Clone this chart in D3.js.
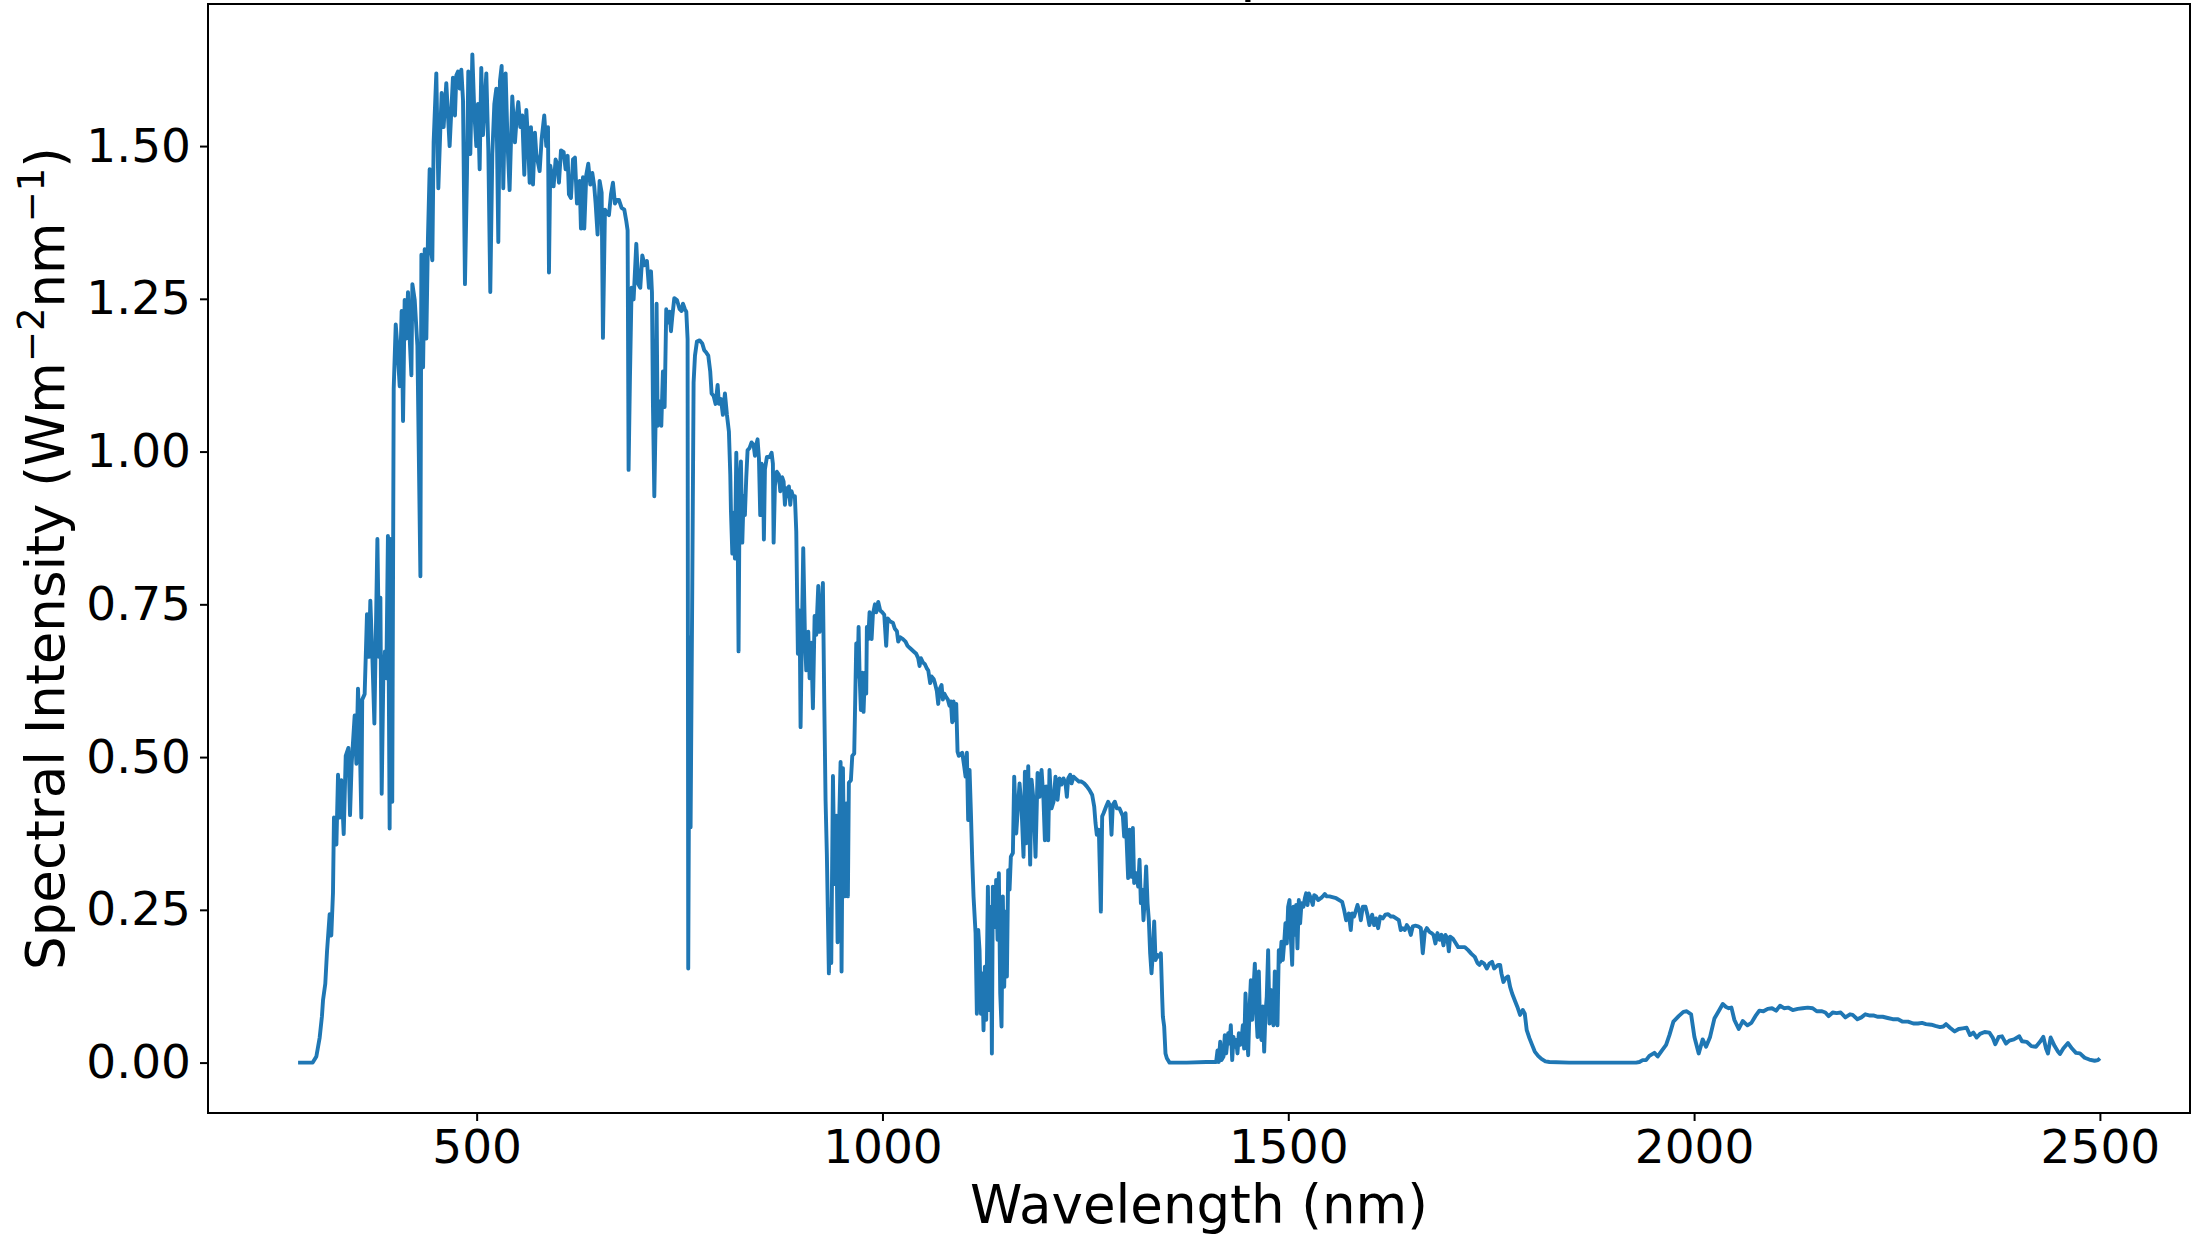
<!DOCTYPE html>
<html>
<head>
<meta charset="utf-8">
<script src="https://cdn.jsdelivr.net/npm/d3@7"></script>
<style>
  body { margin: 0; background: #fff; }
  svg { display: block; font-family: "DejaVu Sans", sans-serif; }
</style>
</head>
<body>
<svg id="chart" width="2192" height="1239"></svg>
<script>
// Spectrum, [wavelength nm, intensity W m^-2 nm^-1]
const bandUV = [
  [280,0],[290,0],[298,0],[302.5,0.010],[306.6,0.041],[309.4,0.076],[310.7,0.102],[313.5,0.129],
  [315.6,0.181],[318.9,0.243],[320.9,0.208],[323,0.278],[324.2,0.401],[327.2,0.357],[329.2,0.471],
  [331.3,0.401],[333.3,0.462],[336.2,0.374],[338.7,0.502],[342,0.515],[344,0.405],[346,0.489],
  [349.7,0.568],[351.8,0.489],[353.8,0.612],[355.8,0.541],[357.9,0.401],[359,0.594],[362,0.603],
  [364.9,0.734],[367.3,0.664],[369,0.756],[371.5,0.664],[374,0.555],[377.7,0.857],[379.8,0.664],
  [381.4,0.761],[383,0.440],[385,0.629],[387,0.673],[388.7,0.629],[390.7,0.862],[392.8,0.383],
  [394,0.857],[396,0.427],[397.8,1.103],[400.3,1.208],[402,1.178],[405.2,1.107],[407.6,1.230],
  [409.3,1.050],[411.3,1.248],[413.4,1.185],[415.4,1.261],[417.5,1.185],[419.6,1.125],[420.8,1.274],
  [423.7,1.248],[427,1.173],[430.7,0.796],[431.9,1.322],[434,1.138],[436,1.331],[438,1.185],[440,1.350]
];
const bandVisible = [
  [442.1,1.462],[443.5,1.333],[445.4,1.313],[447,1.506],[450.3,1.619],[452.8,1.431],[455.2,1.525],
  [456.9,1.587],[459.3,1.531],[462.6,1.603],[464.7,1.550],[466.7,1.500],[469.2,1.569],[470.8,1.612],
  [473.3,1.550],[475,1.616],[477,1.622],[479.1,1.594],[481.1,1.625],[483.2,1.575],[485.6,1.274],
  [488.1,1.456],[489.7,1.622],[492.2,1.487],[494.7,1.650],[497.1,1.556],[499.6,1.500],[501.6,1.569],
  [503.7,1.462],[505.7,1.628],[507.8,1.518],[511.9,1.619],[514.4,1.493],[516.8,1.261],[519.3,1.487],
  [521.8,1.569],[524.2,1.594],[526.7,1.343],[528.7,1.606],[530.8,1.631],[532.8,1.431],[535.7,1.619],
  [538.2,1.500],[540.6,1.428],[543.9,1.581],[547.2,1.506],[549.7,1.553],[551.3,1.572],[553.8,1.531],
  [556.2,1.550],[558.7,1.453],[561.2,1.559],[563.2,1.512],[565.3,1.440],[566.9,1.531],[569.4,1.437],
  [571.8,1.522],[573.5,1.487],[577.6,1.459],[580.1,1.512],[583.3,1.550],[585.8,1.500],[587.9,1.531],
  [589.1,1.293],[590.7,1.468],[594.8,1.434],[597.3,1.478],[599.8,1.468],[601.4,1.440],[603.9,1.493],
  [607.2,1.490],[609.6,1.462],[612.1,1.484],[613.7,1.421],[616.2,1.415],[618.7,1.478],[621.1,1.481],
  [623.6,1.406],[626.9,1.443],[628.5,1.365],[631,1.449],[632.6,1.365],[635.1,1.453],[637.5,1.471],
  [640,1.437],[642.5,1.456],[644.9,1.434],[646.6,1.406],[649,1.355],[651.5,1.443],[654,1.424],
  [655.6,1.186],[658.1,1.396],[660.5,1.390],[663,1.387],[665.5,1.421],[667.9,1.440],[670.4,1.406],
  [672.9,1.412],[675.3,1.412],[678.6,1.399],[681.9,1.396],[684.4,1.377],[686,1.362],[687.2,0.970],
  [688.9,1.123],[690.9,1.268],[693.4,1.249],[696.7,1.340],[699.1,1.274],[701.6,1.268],[704.1,1.321],
  [707,1.305],[709.8,1.312],[712.3,1.268]
];
const bandRed = [
  [714.8,1.295],[716,1.260],[717.2,1.078],[718.9,0.927],[720.5,1.051],[721.7,1.242],[723,1.042],
  [725.4,1.082],[727.5,1.042],[729.5,1.131],[731.6,1.073],[733.6,1.233],[735.7,1.211],[737.7,1.229],
  [739.4,1.197],[741,1.220],[743.5,1.251],[746.8,1.248],[750.1,1.233],[752.5,1.230],[754.2,1.242],
  [756.6,1.233],[758.3,1.229],[759.9,1.184],[760.7,0.154],[762.4,0.696],[763.6,0.385],[765.7,0.785],
  [767.3,1.113],[769,1.157],[771.4,1.180],[774.7,1.182],[778,1.177],[780.4,1.166],[782.9,1.162],
  [785.4,1.157],[787.8,1.131],[789.5,1.095],[792,1.091],[794.4,1.078],[796.9,1.109],[798.5,1.078],
  [801,1.086],[803.4,1.060],[805.9,1.095],[808.4,1.060],[810.8,1.033],[812.5,0.962],[813.3,0.904],
  [815,0.833],[816.6,0.900],[818.2,0.825],[819.9,0.998],[821.5,0.891],[822.7,0.673],[824,0.944],
  [825.6,0.984],[827.3,0.851],[828.9,0.927],[830.5,0.896],[832.2,0.958],[833.8,1.002],[836.3,1.006],
  [838.7,1.015],[841.2,1.011],[842.9,0.993],[844.5,1.011],[846.1,1.020],[847.8,0.989],[849.4,0.896],
  [851.1,0.980],[852.7,0.975],[853.9,0.856],[855.2,0.971],[857.6,0.991],[860.9,0.991],[863.4,0.998],
  [865,0.980],[865.9,0.851],[867.5,0.944],[869.9,0.967],[872.4,0.962],[874.1,0.935],[876.5,0.958],
  [878.2,0.951],[879.8,0.913],[881.5,0.940],[883.1,0.927],[884.7,0.943],[886.4,0.913],[888,0.935],
  [889.7,0.927],[892.1,0.927],[893.8,0.869],[895.8,0.669],[897.9,0.740],[899.1,0.549],[901.2,0.740],
  [902.4,0.842],[904.5,0.696],[906.1,0.642],[908.6,0.705],[910.2,0.629],[912.3,0.687],[914.3,0.580],
  [916.4,0.731],[918.4,0.700],[920.9,0.780],[922.5,0.705],[924.6,0.722],[926.6,0.785],[928.3,0.589],
  [929.9,0.429],[931.5,0.340]
];
const bandNIR1 = [
  [934,0.146],[935.7,0.251],[936.9,0.163],[939,0.469],[941,0.292],[943.1,0.404],[944.7,0.197],
  [946.3,0.374],[948.4,0.492],[949.6,0.149],[951.3,0.482],[953.3,0.272],[955.4,0.424],[957.4,0.272],
  [958.6,0.458],[961.1,0.462],[962.8,0.502],[965.2,0.506],[967.7,0.686],[969.3,0.632],[970.6,0.713],
  [971.8,0.635],[973.4,0.577],[975.1,0.638],[976.7,0.574],[978.4,0.638],[980,0.604],[980.8,0.713],
  [982.5,0.693],[984.1,0.737],[986.6,0.693],[988.2,0.733],[990.7,0.750],[992.3,0.737],[994.8,0.754],
  [997.2,0.740],[999.7,0.737],[1002.2,0.733],[1004.6,0.682],[1006.3,0.727],[1009.6,0.722],[1012.8,0.720],
  [1015.3,0.710],[1017.8,0.706],[1019.4,0.689],[1021.9,0.696],[1025.2,0.693],[1028.4,0.689],[1030.9,0.682],
  [1033.4,0.679],[1035.8,0.676],[1039.1,0.672],[1041.6,0.669],[1044,0.662],[1045.7,0.649],[1047.3,0.662],
  [1049.8,0.655],[1052.3,0.652],[1054.7,0.645],[1056.4,0.642],[1058.8,0.621],[1060.5,0.632],[1063,0.628],
  [1064.6,0.621],[1067,0.608],[1068.7,0.587],[1070.3,0.611],[1072.8,0.618],[1074.4,0.594],[1076.1,0.604],
  [1078.5,0.598],[1080.6,0.594],[1082.6,0.584],[1084.3,0.591],[1085.9,0.557],[1087.6,0.591],[1089.2,0.560],
  [1090.9,0.587],[1092.5,0.509],[1094.1,0.502]
];
const bandNIR2 = [
  [1098.3,0.507],[1100.7,0.485],[1102.4,0.468],[1104,0.507],[1105.6,0.397],[1107.3,0.479],[1109,0.408],
  [1110.6,0.332],[1112.2,0.272],[1114.7,0.212],[1116.3,0.080],[1118,0.217],[1119.6,0.184],[1121.3,0.080],
  [1122.9,0.146],[1124.5,0.053],[1126.2,0.157],[1127.8,0.070],[1129.9,0.288],[1131.9,0.086],[1133.6,0.255],
  [1134.8,0.015],[1136,0.288],[1138.5,0.222],[1140.1,0.299],[1141.8,0.201],[1143.4,0.310],[1145.1,0.113],
  [1146.7,0.059],[1148.3,0.272],[1150,0.124],[1151.6,0.247],[1153.3,0.141],[1154.9,0.315],[1156.6,0.283],
  [1158.2,0.337],[1160.7,0.343],[1162.3,0.468],[1164.8,0.375],[1167.2,0.424],[1168.9,0.457],[1171.3,0.419],
  [1173.8,0.337],[1175.5,0.476],[1177.1,0.359],[1179.6,0.485],[1182,0.324],[1183.7,0.463],[1186.1,0.430],
  [1188.6,0.337],[1191.1,0.474],[1193.5,0.435],[1196,0.479],[1198.4,0.430],[1200.1,0.364],[1201.7,0.452],
  [1204.2,0.364],[1205.8,0.479],[1208.3,0.416],[1210.8,0.427],[1213.2,0.468],[1215.7,0.430],[1218.2,0.465],
  [1220.6,0.455],[1223.1,0.465],[1225.5,0.457],[1227.2,0.435],[1228.8,0.465],[1231.3,0.471],[1233,0.457],
  [1235.4,0.468],[1238.7,0.464],[1242,0.460],[1245.2,0.460],[1248.5,0.457],[1251.8,0.452],[1255.1,0.446],
  [1258.4,0.438],[1260.9,0.419],[1262.5,0.392],[1264.1,0.373],[1266.6,0.381],[1269.1,0.247],[1270.7,0.403],
  [1272.4,0.408],[1275.6,0.419],[1278.1,0.427],[1280.6,0.419],[1282.2,0.373],[1283.8,0.422],[1286.3,0.427],
  [1288.8,0.416]
];
const bandNIR3 = [
  [1292.1,0.416],[1296.2,0.403],[1297.8,0.370],[1299.5,0.408],[1301.1,0.354],[1302.7,0.302],[1304.4,0.381],
  [1306.9,0.304],[1308.5,0.384],[1310.1,0.294],[1312.6,0.310],[1315.1,0.288],[1316.7,0.332],[1318.4,0.261],
  [1320,0.283],[1321.6,0.233],[1323.3,0.272],[1324.9,0.321],[1326.6,0.261],[1328.2,0.233],[1329.8,0.179],
  [1331.5,0.146],[1333.1,0.179],[1334.8,0.231],[1336.4,0.168],[1338.9,0.176],[1341.3,0.173],[1343,0.179],
  [1344.6,0.108],[1345.5,0.075],[1347.1,0.059],[1348.7,0.015],[1350.4,0.007],[1353.7,0],[1375,0],
  [1399,0.001],[1411.1,0.001],[1412.8,0.020],[1414.4,0.001],[1416.1,0.034],[1417.7,0.004],[1420.2,0.010],
  [1421.8,0.045],[1423.5,0.015],[1426,0.048],[1427.6,0.031],[1429.2,0.061],[1430.9,0.004],[1432.5,0.042],
  [1434.1,0.026],[1435.8,0.037],[1437.4,0.015],[1439.1,0.048],[1440.7,0.029],[1442.4,0.037],[1444,0.061],
  [1445.6,0.023],[1447.3,0.113],[1448.9,0.053],[1450.6,0.012],[1452.2,0.086],[1453.9,0.135],[1455.5,0.070],
  [1457.1,0.119],[1458.8,0.162],[1460.4,0.086],[1462.1,0.042],[1463.7,0.149],[1465.3,0.053],[1467,0.037],
  [1468.6,0.092],[1470.3,0.018],[1471.9,0.081],[1473.5,0.108],[1475.2,0.184],[1476.8,0.064],[1478.5,0.119],
  [1480.1,0.070],[1481.8,0.061],[1483.4,0.149],[1485,0.102],[1486.7,0.061],[1488.3,0.184],[1490,0.165],
  [1491.6,0.198],[1493.3,0.168],[1494.9,0.195],[1496.5,0.228],[1498.2,0.195],[1499.8,0.255],[1501.5,0.266],
  [1503.1,0.206],[1504.8,0.160],[1506.4,0.255],[1508,0.209],[1509.7,0.258],[1511.3,0.187],[1513,0.266],
  [1514.6,0.228],[1516.3,0.261],[1518.7,0.255],[1520.4,0.269],[1522,0.277],[1523.7,0.258],[1525.3,0.277],
  [1527.8,0.269],[1530.2,0.258],[1531.9,0.274],[1534.3,0.272],[1536.8,0.266],[1540.1,0.269],[1542.5,0.272],
  [1545,0.276],[1547.5,0.272]
];
const bandSWIR1 = [
  [1550.8,0.272],[1559,0.269],[1566.4,0.263],[1568.8,0.250],[1571.3,0.233],[1574.6,0.244],[1577,0.217],
  [1578.7,0.244],[1581.1,0.239],[1585.3,0.258],[1587.7,0.247],[1589.4,0.233],[1591.8,0.255],[1595.1,0.255],
  [1597.6,0.242],[1600,0.225],[1603.3,0.242],[1605.8,0.225],[1608.2,0.236],[1610.7,0.220],[1613.2,0.239],
  [1616.5,0.236],[1619.7,0.242],[1623,0.243],[1626.3,0.239],[1629.6,0.239],[1632.9,0.236],[1636.2,0.233],
  [1638.6,0.217],[1641.1,0.220],[1643.6,0.217],[1646,0.225],[1648.5,0.220],[1651,0.209],[1653.4,0.223],
  [1656.7,0.224],[1660,0.223],[1663.3,0.220],[1665.7,0.179],[1668.2,0.214],[1670.7,0.220],[1673.9,0.214],
  [1676.4,0.212],[1678.9,0.209],[1681.3,0.195],[1683.8,0.212],[1686.3,0.201],[1688.7,0.209],[1691.2,0.192],
  [1693.6,0.209],[1696.1,0.203],[1697.8,0.182],[1699.4,0.206],[1702.7,0.203],[1706,0.196],[1709.3,0.189],
  [1713.4,0.189],[1717.5,0.189],[1721.6,0.184],[1725.7,0.178],[1729.8,0.173],[1733.1,0.163],[1735.5,0.160],
  [1738,0.165],[1741.3,0.162],[1744.6,0.154],[1747.8,0.162],[1751.1,0.165],[1753.6,0.154],[1756.1,0.157],
  [1758.5,0.160],[1761,0.160],[1762.6,0.146],[1765.1,0.132],[1767.6,0.138],[1770.8,0.141],[1773.3,0.124],
  [1775.8,0.113],[1779,0.102],[1782.3,0.091],[1785.6,0.078],[1788.9,0.086],[1791.4,0.080],[1793.8,0.053],
  [1797.1,0.040],[1800.4,0.029],[1803.7,0.018],[1807.8,0.011],[1811.9,0.006],[1816.8,0.002],[1821.8,0.001],
  [1846,0]
];
const bandSWIR2 = [
  [1928.5,0],[1932.6,0.001],[1936.7,0.004],[1940.8,0.004],[1944.9,0.011],[1951.1,0.016],[1955.2,0.010],
  [1960.5,0.020],[1965.5,0.029],[1969.6,0.045],[1974.5,0.067],[1981,0.076],[1986.8,0.083],[1990.9,0.084],
  [1996.3,0.079],[2000.4,0.042],[2005.7,0.015],[2010.6,0.038],[2014.7,0.026],[2019.7,0.042],[2025,0.072],
  [2031.1,0.086],[2035.3,0.096],[2039.4,0.091],[2042.7,0.089],[2046,0.090],[2049.6,0.070],[2055,0.055],
  [2059.9,0.068],[2065.7,0.061],[2070.6,0.065],[2075.5,0.076],[2080.4,0.085],[2085.4,0.084],[2090.7,0.088],
  [2096,0.089],[2101,0.085],[2105.9,0.093],[2110.8,0.089],[2115.8,0.090],[2121.5,0.086],[2127.7,0.088],
  [2133.8,0.089],[2140,0.090],[2146.1,0.089],[2151.1,0.084]
];
const bandSWIR3 = [
  [2157.6,0.084],[2161.7,0.082],[2165.8,0.076],[2170.8,0.082],[2175.7,0.081],[2180.6,0.082],[2186.4,0.074],
  [2192.1,0.079],[2195.4,0.078],[2201.2,0.071],[2206.1,0.074],[2211,0.079],[2216.8,0.077],[2221.7,0.077],
  [2226.6,0.075],[2232.4,0.075],[2238.5,0.073],[2244.7,0.071],[2251.3,0.071],[2257,0.067],[2263.6,0.067],
  [2270.1,0.064],[2275.9,0.064],[2280.8,0.065],[2285.7,0.063],[2292.3,0.062],[2297.2,0.060],[2303,0.058],
  [2307.1,0.059],[2310.4,0.063],[2315.3,0.057],[2321.1,0.051],[2326,0.055],[2331,0.056],[2335.8,0.057],
  [2340,0.045],[2344.1,0.049],[2348.2,0.041],[2352.3,0.047],[2358,0.050],[2363.8,0.049],[2367.9,0.041],
  [2371.1,0.030],[2375.3,0.042],[2379.4,0.043],[2384.3,0.031],[2388.4,0.036],[2394.1,0.038],[2400.7,0.043],
  [2404,0.035],[2409.7,0.034],[2415.5,0.027],[2421.2,0.026],[2426.2,0.034],[2430.3,0.042],[2433.6,0.023],
  [2436,0.015],[2439.3,0.041],[2444.2,0.027],[2448.3,0.018],[2450.8,0.014],[2454.9,0.023],[2460.7,0.032],
  [2465.6,0.023],[2470.5,0.016],[2475.4,0.015],[2481.2,0.008],[2486.9,0.005],[2493.5,0.003],[2497.6,0.004],
  [2500,0.007]
];

const xTicks = [500, 1000, 1500, 2000, 2500];
const yTicks = [0, 0.25, 0.5, 0.75, 1.0, 1.25, 1.5];
const title = "AM1.5G Spectrum";
const xLabel = "Wavelength (nm)";

const spectrum = [].concat(bandUV, bandVisible, bandRed, bandNIR1, bandNIR2,
                           bandNIR3, bandSWIR1, bandSWIR2, bandSWIR3);

const svg = d3.select("#chart"),
      margin = {top: 4, right: 2, bottom: 126, left: 208},
      width = +svg.attr("width"),
      height = +svg.attr("height");

// matplotlib style 5% margins around the data
const xExt = d3.extent(spectrum, d => d[0]);
const yExt = d3.extent(spectrum, d => d[1]);
const xPad = (xExt[1] - xExt[0]) * 0.05,
      yPad = (yExt[1] - yExt[0]) * 0.05;

const x = d3.scaleLinear()
    .domain([xExt[0] - xPad, xExt[1] + xPad])
    .range([margin.left, width - margin.right]);

const y = d3.scaleLinear()
    .domain([yExt[0] - yPad, yExt[1] + yPad])
    .range([height - margin.bottom, margin.top]);

const line = d3.line()
    .x(d => x(d[0]))
    .y(d => y(d[1]));

svg.append("path")
    .datum(spectrum)
    .attr("fill", "none")
    .attr("stroke", "#1f77b4")
    .attr("stroke-width", 3.9)
    .attr("stroke-linejoin", "round")
    .attr("d", line);

// axes
const xAxis = svg.append("g")
    .attr("transform", `translate(0,${height - margin.bottom})`)
    .call(d3.axisBottom(x).tickValues(xTicks).tickSize(8).tickPadding(9).tickFormat(d3.format("d")));

const yAxis = svg.append("g")
    .attr("transform", `translate(${margin.left},0)`)
    .call(d3.axisLeft(y).tickValues(yTicks).tickSize(8).tickPadding(9).tickFormat(d3.format(".2f")));

[xAxis, yAxis].forEach(g => {
    g.select(".domain").remove();
    g.selectAll(".tick line").attr("stroke", "#000").attr("stroke-width", 2);
    g.selectAll(".tick text")
        .attr("fill", "#000")
        .attr("font-family", "DejaVu Sans")
        .attr("font-size", 47);
});

// frame
svg.append("rect")
    .attr("x", margin.left)
    .attr("y", margin.top)
    .attr("width", width - margin.right - margin.left)
    .attr("height", height - margin.bottom - margin.top)
    .attr("fill", "none")
    .attr("stroke", "#000")
    .attr("stroke-width", 2);

// labels
svg.append("text")
    .attr("x", (margin.left + width - margin.right) / 2)
    .attr("y", 1223)
    .attr("text-anchor", "middle")
    .attr("font-size", 53)
    .text(xLabel);

const yl = svg.append("text")
    .attr("transform", `translate(64,${(margin.top + height - margin.bottom) / 2}) rotate(-90)`)
    .attr("text-anchor", "middle")
    .attr("font-size", 53);
yl.append("tspan").text("Spectral Intensity (Wm");
yl.append("tspan").attr("font-size", 37).attr("dy", -20).text("\u22122");
yl.append("tspan").attr("dy", 20).text("nm");
yl.append("tspan").attr("font-size", 37).attr("dy", -20).text("\u22121");
yl.append("tspan").attr("dy", 20).text(")");

// title sits above the canvas; only its descender shows
svg.append("text")
    .attr("x", (margin.left + width - margin.right) / 2 + 22)
    .attr("y", -10)
    .attr("text-anchor", "middle")
    .attr("font-size", 58)
    .text(title);
</script>
</body>
</html>
